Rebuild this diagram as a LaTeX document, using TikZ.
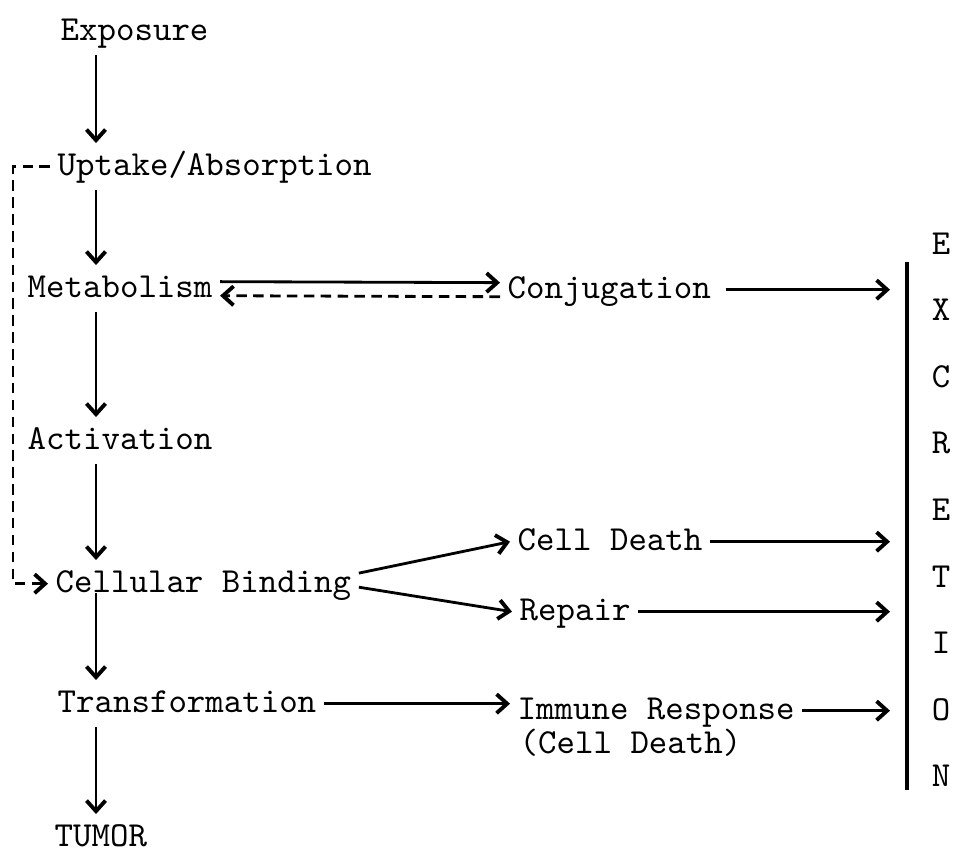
\documentclass[tikz,border=0pt]{standalone}
\usepackage{fontspec}
\usetikzlibrary{arrows.meta}

\begin{document}
\begin{tikzpicture}[x=0.01cm,y=-0.01cm,
        stage/.style={anchor=base west,inner sep=2pt,text height=1.6ex,text depth=0.5ex,font=\ttfamily},
        flow/.style={line width=0.8pt,-{Straight Barb[length=3pt,width=5.4pt,line width=1.1pt]}},
        back/.style={flow,dash pattern=on 3pt off 1.8pt}]
            \useasboundingbox (0,0) rectangle (957,850);

            \coordinate (Spine) at (96,0);
            \coordinate (Inlet) at (890,0);
            \coordinate (Feedback) at (13,0);
            \coordinate (BarTop) at (907,262);
            \coordinate (BarBottom) at (907,790);

            \node[stage] (Exposure) at (53,40) {Exposure};
            \node[stage] (Uptake) at (50,175) {Uptake/Absorption};
            \node[stage] (Metabolism) at (20,297) {Metabolism};
            \node[stage] (Conjugation) at (500,298) {Conjugation};
            \node[stage] (Activation) at (20,449) {Activation};
            \node[stage] (Binding) at (48,592) {Cellular Binding};
            \node[stage] (CellDeath) at (510,550) {Cell Death};
            \node[stage] (Repair) at (512,620) {Repair};
            \node[stage] (Transformation) at (50,712) {Transformation};
            \node[stage] (Immune) at (510,719) {Immune Response};
            \node[stage] (ImmuneNote) at (512,753) {(Cell Death)};
            \node[stage] (Tumor) at (47,846) {TUMOR};

            % excretion column
            \foreach \ltr [count=\i] in {E,X,C,R,E,T,I,O,N}
                \node[stage,anchor=base] (Excretion\i) at (941,{254+66.6*(\i-1)}) {\ltr};
            \draw[line width=1pt] (BarTop) -- (BarBottom);

            \draw[flow] (Exposure.south -| Spine) -- (Uptake.north -| Spine);
            \draw[flow] (Uptake.south -| Spine) -- (Metabolism.north -| Spine);
            \draw[flow] (Metabolism.south -| Spine) -- (Activation.north -| Spine);
            \draw[flow] (Activation.south -| Spine) -- (Binding.north -| Spine);
            \draw[flow] ([yshift=4pt]Binding.south -| Spine) -- (Transformation.north -| Spine);
            \draw[flow] (Transformation.south -| Spine) -- (Tumor.north -| Spine);

            \draw[flow] ([yshift=2pt]Metabolism.east) -- ([yshift=2pt]Conjugation.west);
            \draw[back] ([yshift=-2pt]Conjugation.west) -- ([yshift=-2pt]Metabolism.east);
            \draw[flow] ([xshift=2pt]Conjugation.east) -- (Conjugation.east -| Inlet);

            \draw[flow] ([yshift=3pt]Binding.east) -- (CellDeath.west);
            \draw[flow] ([yshift=-1pt]Binding.east) -- (Repair.west);
            \draw[flow] (CellDeath.east) -- (CellDeath.east -| Inlet);
            \draw[flow] (Repair.east) -- (Repair.east -| Inlet);

            \draw[flow] (Transformation.east) -- (Transformation.east -| Immune.west);
            \draw[flow] (Immune.east) -- (Immune.east -| Inlet);

            % feedback from uptake
            \draw[back] (Uptake.west) -- (Uptake.west -| Feedback) -- (Binding.west -| Feedback) -- (Binding.west);
        \end{tikzpicture}
\end{document}
